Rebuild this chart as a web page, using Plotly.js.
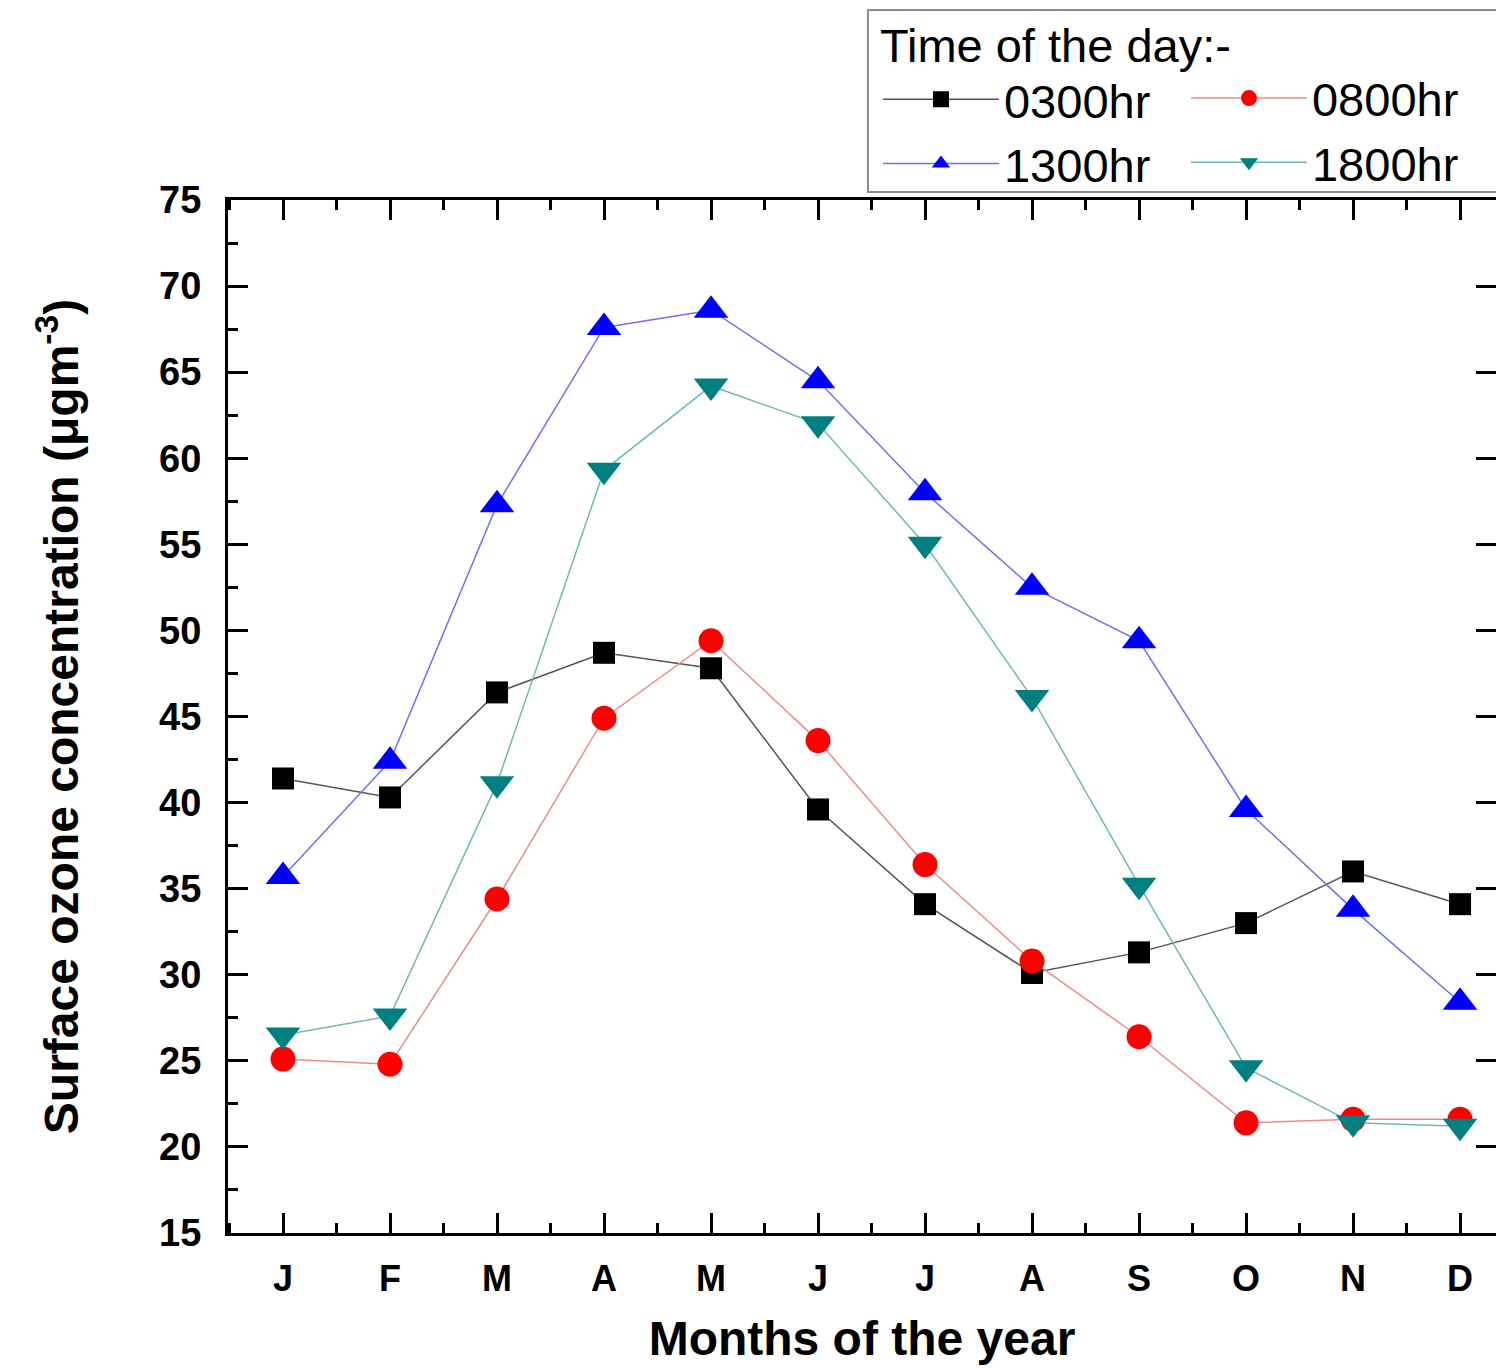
<!DOCTYPE html>
<html>
<head>
<meta charset="utf-8">
<script src="https://cdn.plot.ly/plotly-3.0.1.min.js"></script>
<style>html,body{margin:0;padding:0;background:#fff;}#chart{width:1496px;height:1368px;}</style>
</head>
<body>
<div id="chart"></div>
<script>
const months = [1,2,3,4,5,6,7,8,9,10,11,12];
const monthLabels = ["J","F","M","A","M","J","J","A","S","O","N","D"];
const hr0300 = [41.4, 40.3, 46.4, 48.7, 47.8, 39.6, 34.1, 30.1, 31.3, 33.0, 36.0, 34.1];
const hr0800 = [25.1, 24.8, 34.4, 44.9, 49.4, 43.6, 36.4, 30.8, 26.4, 21.4, 21.6, 21.6];
const hr1300 = [35.7, 42.4, 57.3, 67.6, 68.6, 64.5, 58.0, 52.5, 49.4, 39.6, 33.8, 28.4];
const hr1800 = [26.5, 27.6, 41.1, 59.3, 64.2, 62.0, 55.0, 46.1, 35.2, 24.6, 21.4, 21.2];

const FONT = '"Liberation Sans", Arial, sans-serif';

function series(name, y, markerColor, lineColor, symbol, size, legendId) {
  return {
    x: months, y: y, name: name, type: 'scatter', mode: 'lines+markers',
    legend: legendId,
    line: {color: lineColor, width: 1.5},
    marker: {color: markerColor, symbol: symbol, size: size, line: {width: 0}},
    cliponaxis: false
  };
}

const traces = [
  series('0300hr', hr0300, '#000000', '#555555', 'square', 22, 'legend'),
  series('1300hr', hr1300, '#0000ff', '#7070f0', 'triangle-up', 30, 'legend'),
  series('0800hr', hr0800, '#ff0000', '#f08a8a', 'circle', 25, 'legend2'),
  series('1800hr', hr1800, '#008080', '#70b8b8', 'triangle-down', 30, 'legend2'),
  {x: [], y: [], yaxis: 'y2', showlegend: false, hoverinfo: 'skip', type: 'scatter', mode: 'lines'}
];

const legendFont = {family: FONT, size: 47, color: '#000000'};

const layout = {
  width: 1496, height: 1368,
  margin: {l: 228, r: 0, t: 200, b: 135, pad: 0, autoexpand: false},
  paper_bgcolor: '#ffffff', plot_bgcolor: '#ffffff',
  font: {family: FONT, color: '#000000'},
  showlegend: true,
  legend: {
    x: 0.5126, xanchor: 'left', y: 1.1925, yanchor: 'top',
    orientation: 'v', itemwidth: 116,
    borderwidth: 0, bgcolor: 'rgba(0,0,0,0)',
    font: legendFont,
    title: {text: 'Time of the day:-', side: 'top', font: legendFont},
    tracegroupgap: 0
  },
  legend2: {
    x: 0.7555, xanchor: 'left', y: 1.1345, yanchor: 'top',
    orientation: 'v', itemwidth: 116,
    borderwidth: 0, bgcolor: 'rgba(0,0,0,0)',
    font: legendFont,
    tracegroupgap: 0
  },
  shapes: [{
    type: 'rect', xref: 'paper', yref: 'paper',
    x0: 0.5047, x1: 1.05, y0: 1.0078, y1: 1.1839,
    line: {color: '#8c8c8c', width: 2}, fillcolor: 'rgba(0,0,0,0)', layer: 'above'
  }],
  xaxis: {
    range: [0.486, 12.336],
    tickmode: 'array', tickvals: months, ticktext: monthLabels,
    ticks: 'inside', ticklen: 20, tickwidth: 3, tickcolor: '#000',
    showline: true, linecolor: '#000', linewidth: 3, mirror: 'ticks',
    showgrid: false, zeroline: false,
    tickfont: {family: FONT, size: 36, color: '#000', weight: 'bold'},
    ticklabelstandoff: 12,
    minor: {ticks: 'inside', ticklen: 10, tickwidth: 3, tickcolor: '#000', tick0: 0.5, dtick: 1, showgrid: false},
    title: {text: '<b>Months of the year</b>', font: {family: FONT, size: 48, color: '#000'}, standoff: 24}
  },
  yaxis: {
    range: [15, 75],
    tickmode: 'linear', tick0: 15, dtick: 5,
    ticks: 'inside', ticklen: 20, tickwidth: 3, tickcolor: '#000',
    showline: true, linecolor: '#000', linewidth: 3, mirror: false,
    showgrid: false, zeroline: false,
    tickfont: {family: FONT, size: 38, color: '#000', weight: 'bold'},
    ticklabelstandoff: 16,
    minor: {ticks: 'inside', ticklen: 10, tickwidth: 3, tickcolor: '#000', dtick: 2.5, showgrid: false},
    title: {text: '<b>Surface ozone concentration (μgm<sup>-3</sup>)</b>', font: {family: FONT, size: 48, color: '#000'}, standoff: 66}
  },
  yaxis2: {
    overlaying: 'y', side: 'right', range: [15, 75],
    tickmode: 'linear', tick0: 15, dtick: 5,
    ticks: 'inside', ticklen: 20, tickwidth: 3, tickcolor: '#000',
    showline: false, showgrid: false, zeroline: false, showticklabels: false
  }
};

Plotly.newPlot('chart', traces, layout, {displayModeBar: false, staticPlot: true});
</script>
</body>
</html>
